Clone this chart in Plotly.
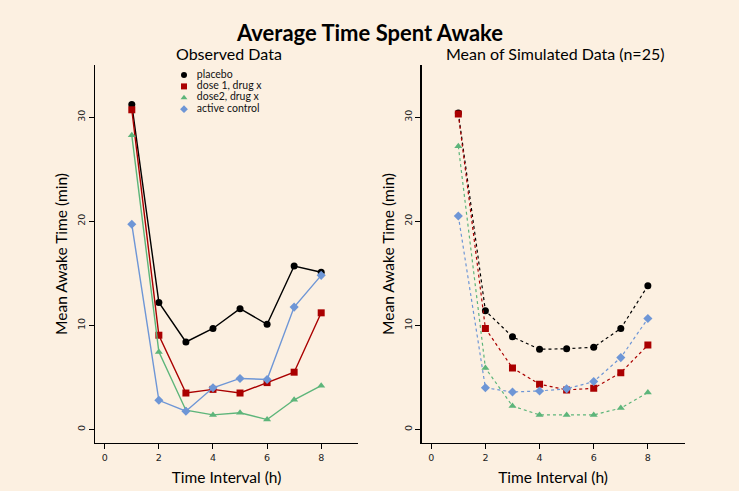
import plotly.graph_objects as go

x = [1, 2, 3, 4, 5, 6, 7, 8]
series = ["placebo", "dose 1, drug x", "dose2, drug x", "active control"]
observed = {
    "placebo": [31.2, 12.2, 8.4, 9.7, 11.6, 10.1, 15.7, 15.1],
    "dose 1, drug x": [30.7, 9.05, 3.5, 3.85, 3.5, 4.5, 5.5, 11.2],
    "dose2, drug x": [28.25, 7.45, 1.85, 1.4, 1.6, 0.95, 2.85, 4.2],
    "active control": [19.7, 2.8, 1.75, 4.0, 4.9, 4.8, 11.75, 14.8],
}
simulated = {
    "placebo": [30.4, 11.4, 8.9, 7.7, 7.75, 7.9, 9.7, 13.8],
    "dose 1, drug x": [30.3, 9.7, 5.9, 4.35, 3.8, 3.95, 5.45, 8.1],
    "dose2, drug x": [27.2, 5.9, 2.25, 1.4, 1.4, 1.4, 2.05, 3.55],
    "active control": [20.5, 4.0, 3.6, 3.7, 3.9, 4.6, 6.9, 10.65],
}
colors = {"placebo": "#000000", "dose 1, drug x": "#AA0000",
          "dose2, drug x": "#5DB57A", "active control": "#6E96D6"}
symbols = {"placebo": "circle", "dose 1, drug x": "square",
           "dose2, drug x": "triangle-up", "active control": "diamond"}
xticks = [0, 2, 4, 6, 8]
yticks = [0, 10, 20, 30]

bg = "#FCF0E1"
font = "Lato, Open Sans, sans-serif"
W, H = 739, 491
fig = go.Figure()

for s in series:
    fig.add_trace(go.Scatter(x=x, y=observed[s], name=s, mode="lines+markers",
                             line=dict(color=colors[s], width=1.4),
                             marker=dict(color=colors[s], symbol=symbols[s], size=7),
                             xaxis="x", yaxis="y", showlegend=False))
for s in series:
    fig.add_trace(go.Scatter(x=x, y=simulated[s], name=s, mode="lines+markers",
                             line=dict(color=colors[s], width=1.2, dash="dot"),
                             marker=dict(color=colors[s], symbol=symbols[s], size=7),
                             xaxis="x2", yaxis="y2", showlegend=False))

# legend drawn on an invisible pixel-space overlay axis
leg_x = [184] * len(series)
leg_y = [H - 75 - 11.4 * i for i in range(len(series))]
fig.add_trace(go.Scatter(
    x=leg_x, y=leg_y, mode="markers+text",
    text=["   " + s for s in series], textposition="middle right",
    textfont=dict(size=10.5, family=font, color="#111"),
    marker=dict(color=[colors[s] for s in series],
                symbol=[symbols[s] for s in series], size=6),
    xaxis="x3", yaxis="y3", showlegend=False, hoverinfo="skip"))

axcommon = dict(showgrid=False, zeroline=False, showline=True, linecolor="black",
                linewidth=1.2, ticks="outside", ticklen=5, tickcolor="black",
                automargin=False,
                tickfont=dict(size=9.5, color="#222", family="DejaVu Sans"))
ycommon = dict(axcommon, range=[-1.3, 35.0], tickvals=yticks, tickangle=-90)
xcommon = dict(axcommon, range=[-0.36, 9.36], tickvals=xticks)
ydom = [(H - 443) / H, (H - 65) / H]

fig.update_layout(
    width=W, height=H, paper_bgcolor=bg, plot_bgcolor="rgba(0,0,0,0)",
    margin=dict(l=0, r=0, t=0, b=0, autoexpand=False),
    font=dict(family=font, color="black"),
    hovermode=False,
    xaxis=dict(xcommon, domain=[95 / W, 358 / W], anchor="y",
               title=dict(text="Time Interval (h)", font=dict(size=15.5), standoff=10)),
    yaxis=dict(ycommon, domain=ydom, anchor="x",
               title=dict(text="Mean Awake Time (min)", font=dict(size=15.5), standoff=4)),
    xaxis2=dict(xcommon, domain=[421.5 / W, 684.7 / W], anchor="y2",
                title=dict(text="Time Interval (h)", font=dict(size=15.5), standoff=10)),
    yaxis2=dict(ycommon, domain=ydom, anchor="x2",
                title=dict(text="Mean Awake Time (min)", font=dict(size=15.5), standoff=4)),
    xaxis3=dict(domain=[0, 1], range=[0, W], visible=False, anchor="y3", fixedrange=True),
    yaxis3=dict(domain=[0, 1], range=[0, H], visible=False, anchor="x3", fixedrange=True),
    annotations=[
        dict(text="<b>Average Time Spent Awake</b>", x=0.5, y=(H - 32) / H,
             xref="paper", yref="paper", showarrow=False, font=dict(size=22),
             xanchor="center", yanchor="middle"),
        dict(text="Observed Data", x=229 / W, y=(H - 53.5) / H, xref="paper", yref="paper",
             showarrow=False, font=dict(size=16), xanchor="center", yanchor="middle"),
        dict(text="Mean of Simulated Data (n=25)", x=555 / W, y=(H - 53.5) / H,
             xref="paper", yref="paper", showarrow=False, font=dict(size=16),
             xanchor="center", yanchor="middle"),
    ],
)

fig.write_html("out.html", config={"displayModeBar": False, "staticPlot": True},
               post_script="document.body.style.margin='0';")
